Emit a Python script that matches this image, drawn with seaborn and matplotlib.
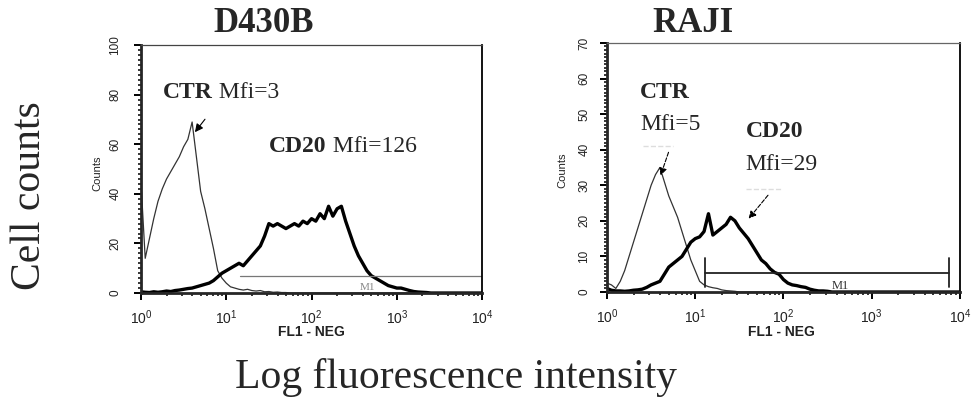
import matplotlib
matplotlib.use("Agg")
import matplotlib.pyplot as plt
from matplotlib.ticker import LogLocator, MultipleLocator, NullFormatter
import numpy as np
import pandas as pd
import seaborn as sns

# ---------------- data ----------------
# channel positions in log10 fluorescence units (0 .. 4, step 0.05)
log_channels = [round(0.05 * i, 2) for i in range(81)]

d430b_ctr = [45, 14, 22, 30, 37, 42, 46, 49, 52, 55,
             59, 62, 69, 55, 41, 34, 26, 18, 9, 6,
             4, 2.5, 2, 1.5, 1.2, 1.5, 1, 0.8, 1, 0.5,
             0.6, 0.3, 0.4, 0.2, 0.2, 0, 0, 0, 0, 0,
             0, 0, 0, 0, 0, 0, 0, 0, 0, 0,
             0, 0, 0, 0, 0, 0, 0, 0, 0, 0,
             0, 0, 0, 0, 0, 0, 0, 0, 0, 0,
             0, 0, 0, 0, 0, 0, 0, 0, 0, 0, 0]

d430b_cd20 = [0.5, 0.3, 0.2, 0.5, 0.3, 0.5, 0.8, 0.6, 1, 1.2,
              1.5, 1.8, 2, 2.5, 3, 3.5, 4, 5, 6.5, 8,
              9, 10, 11, 12, 11, 13, 15, 17, 19, 23,
              28, 27, 28, 27, 26, 27, 28, 27, 29, 28,
              30, 29, 32, 30, 35, 31, 34, 35, 29, 24,
              19, 15, 12, 9, 7, 6, 5, 4, 3, 2.5,
              2, 2, 1.5, 1, 0.6, 0.4, 0.3, 0.2, 0, 0,
              0, 0, 0, 0, 0, 0, 0, 0, 0, 0, 0]

raji_ctr = [2.5, 2, 1, 3, 6, 10, 14, 18, 22, 26,
            30, 33, 35, 31, 27, 24, 21, 17, 13, 9,
            6, 3, 2, 1.5, 1.2, 1, 0.6, 0.4, 0.3, 0.2,
            0, 0, 0, 0, 0, 0, 0, 0, 0, 0,
            0, 0, 0, 0, 0, 0, 0, 0, 0, 0,
            0, 0, 0, 0, 0, 0, 0, 0, 0, 0,
            0, 0, 0, 0, 0, 0, 0, 0, 0, 0,
            0, 0, 0, 0, 0, 0, 0, 0, 0, 0, 0]

raji_cd20 = [1, 0.5, 0.3, 0.3, 0.2, 0.3, 0.5, 0.6, 0.8, 1.3,
             2, 2.5, 3, 5, 7, 8, 9, 10, 12, 14,
             15, 15.5, 17, 22, 16, 17, 18, 19, 21, 20,
             18, 16.5, 15, 13, 11, 9, 8, 6.5, 5.5, 5,
             3.5, 2.5, 2, 1.8, 1.5, 1.3, 0.8, 0.5, 0.3, 0.3,
             0.2, 0, 0, 0, 0, 0, 0, 0, 0, 0,
             0, 0, 0, 0, 0, 0, 0, 0, 0, 0,
             0, 0, 0, 0, 0, 0, 0, 0, 0, 0, 0]

panel_titles = ["D430B", "RAJI"]
ctr_mfi = [3, 5]
cd20_mfi = [126, 29]
y_max = [100, 70]
y_major = [20, 10]
y_minor = [2, 1]
# M1 gates: (low, high, level) in fluorescence / counts
gate_d430b = (14.5, 10000, 7)
gate_raji = (12.9, 7500, 5.3)

intensity = [10 ** v for v in log_channels]
df = pd.DataFrame({
    "FL1": intensity * 4,
    "Counts": d430b_ctr + d430b_cd20 + raji_ctr + raji_cd20,
    "sample": ["CTR"] * 81 + ["CD20"] * 81 + ["CTR"] * 81 + ["CD20"] * 81,
    "cell": ["D430B"] * 162 + ["RAJI"] * 162,
})

# ---------------- style ----------------
sns.set_style("ticks")
plt.rcParams["font.family"] = ["Liberation Sans", "DejaVu Sans"]
SERIF = ["Liberation Serif", "DejaVu Serif"]

fig = plt.figure(figsize=(9.72, 4.05), dpi=100)
ax1 = fig.add_axes([0.145, 0.2765, 0.351, 0.612])
ax2 = fig.add_axes([0.6245, 0.279, 0.363, 0.615])
axes = [ax1, ax2]

for i, (ax, cell) in enumerate(zip(axes, panel_titles)):
    sub = df[df["cell"] == cell]
    ctr = sub[sub["sample"] == "CTR"]
    cd = sub[sub["sample"] == "CD20"]
    sns.lineplot(data=ctr, x="FL1", y="Counts", ax=ax, color="#333333",
                 linewidth=0.9, estimator=None, legend=False)
    sns.lineplot(data=cd, x="FL1", y="Counts", ax=ax, color="black",
                 linewidth=2.4, estimator=None, legend=False)
    ax.set_xscale("log")
    ax.set_xlim(1, 1e4)
    ax.set_ylim(0, y_max[i])
    ax.xaxis.set_major_locator(LogLocator(base=10, numticks=6))
    ax.xaxis.set_minor_locator(LogLocator(base=10, subs=np.arange(2, 10), numticks=20))
    ax.xaxis.set_minor_formatter(NullFormatter())
    ax.yaxis.set_major_locator(MultipleLocator(y_major[i]))
    ax.yaxis.set_minor_locator(MultipleLocator(y_minor[i]))
    ax.set_xlabel("")
    ax.set_ylabel("")
    ax.tick_params(axis="both", which="major", direction="out", length=5, width=1.4,
                   color="black")
    ax.tick_params(axis="both", which="minor", direction="out", length=2.5, width=1.1,
                   color="black")
    ax.tick_params(axis="x", which="major", labelsize=10, pad=6, labelcolor="#222222")
    ax.tick_params(axis="y", which="major", labelsize=8.5, pad=9 if i == 0 else 7,
                   labelcolor="#222222")
    for lab in ax.get_yticklabels():
        lab.set_rotation(90)
        lab.set_va("center")
    ax.spines["left"].set_linewidth(2.0)
    ax.spines["bottom"].set_linewidth(2.0)
    ax.spines["top"].set_linewidth(0.9)
    ax.spines["top"].set_color("#444444" if i == 0 else "#666666")
    ax.spines["right"].set_linewidth(1.3)
    ax.spines["right"].set_color("black")

# ---------------- gates ----------------
lo, hi, lev = gate_d430b
ax1.plot([lo, hi], [lev, lev], color="#777777", linewidth=0.9)
ax1.text(450, 2.2, "M1", fontsize=8, family=SERIF, color="#888888", ha="center", va="center")

lo, hi, lev = gate_raji
ax2.plot([lo, hi], [lev, lev], color="#222222", linewidth=1.3)
ax2.plot([lo, lo], [1.4, 9.5], color="#222222", linewidth=1.3)
ax2.plot([hi, hi], [1.4, 9.5], color="#222222", linewidth=1.3)
ax2.text(440, 1.6, "M1", fontsize=9, family=SERIF, color="#333333", ha="center", va="center")

# ---------------- annotations ----------------
FS = 17
t = ax1.text(1.82, 81, "CTR", fontsize=FS, family=SERIF, fontweight="bold", va="center")
ax1.annotate(f" Mfi={ctr_mfi[0]}", xy=(1, 0.5), xycoords=t, fontsize=FS, family=SERIF,
             va="center")
t = ax1.text(32, 59, "CD20", fontsize=FS, family=SERIF, fontweight="bold", va="center")
ax1.annotate(f" Mfi={cd20_mfi[0]}", xy=(1, 0.5), xycoords=t, fontsize=FS, family=SERIF,
             va="center")
ax1.annotate("", xy=(4.1, 64), xytext=(5.9, 71),
             arrowprops=dict(arrowstyle="-|>", color="black", lw=0.8, mutation_scale=12))

ax2.text(2.37, 56, "CTR", fontsize=FS, family=SERIF, fontweight="bold", va="center")
ax2.text(2.37, 47, f"Mfi={ctr_mfi[1]}", fontsize=FS, family=SERIF, va="center")
ax2.text(37.5, 45, "CD20", fontsize=FS, family=SERIF, fontweight="bold", va="center")
ax2.text(37.5, 35.7, f"Mfi={cd20_mfi[1]}", fontsize=FS, family=SERIF, va="center")
ax2.plot([2.55, 5.6], [41, 41], color="#dddddd", linewidth=1.0, linestyle="--")
ax2.plot([38, 95], [29, 29], color="#dddddd", linewidth=1.0, linestyle="--")
ax2.annotate("", xy=(3.95, 32), xytext=(5.1, 40),
             arrowprops=dict(arrowstyle="-|>", color="black", lw=0.8, linestyle="--",
                             mutation_scale=11))
ax2.annotate("", xy=(38.5, 20), xytext=(70, 27.8),
             arrowprops=dict(arrowstyle="-|>", color="black", lw=0.8, linestyle="--",
                             mutation_scale=11))

# ---------------- figure texts ----------------
fig.text(264 / 972, 1 - 23 / 405, panel_titles[0], fontsize=25, family=SERIF,
         fontweight="bold", ha="center", va="center")
fig.text(693 / 972, 1 - 23 / 405, panel_titles[1], fontsize=25, family=SERIF,
         fontweight="bold", ha="center", va="center")
fig.text(311 / 972, 1 - 332 / 405, "FL1 - NEG", fontsize=10, fontweight="bold",
         ha="center", va="center", color="#222222")
fig.text(781 / 972, 1 - 332 / 405, "FL1 - NEG", fontsize=10, fontweight="bold",
         ha="center", va="center", color="#222222")
fig.text(97 / 972, 1 - 173 / 405, "Counts", fontsize=8, rotation=90,
         ha="center", va="center", color="#222222")
fig.text(562 / 972, 1 - 170 / 405, "Counts", fontsize=8, rotation=90,
         ha="center", va="center", color="#222222")
fig.text(30 / 972, 1 - 196 / 405, "Cell counts", fontsize=30, family=SERIF,
         rotation=90, ha="center", va="center")
fig.text(456 / 972, 1 - 388 / 405, "Log fluorescence intensity", fontsize=30,
         family=SERIF, ha="center", va="baseline")

fig.savefig("out.png", dpi=100)
